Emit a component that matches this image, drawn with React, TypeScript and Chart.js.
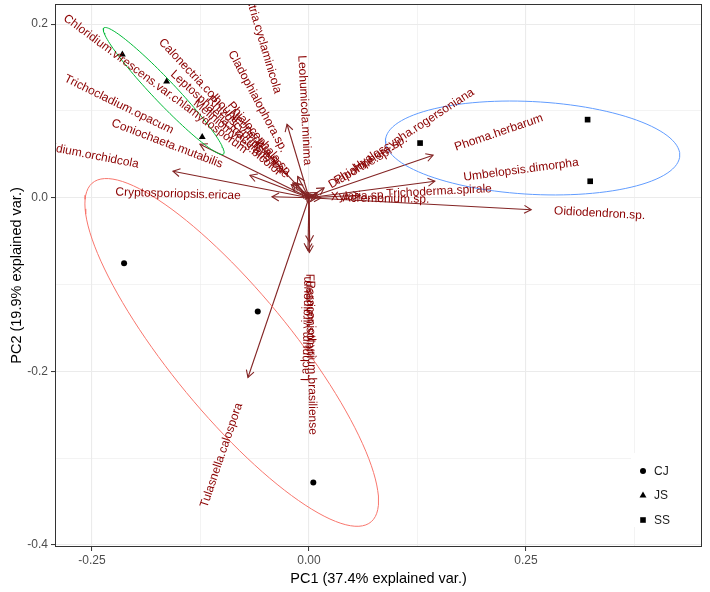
import React, { useEffect, useRef } from 'react';
import { Chart, registerables } from 'chart.js';

Chart.register(...registerables);

// ---------- data ----------
const groupNames = ['CJ', 'JS', 'SS'];
const groupColors = ['#F8766D', '#00BA38', '#619CFF'];
const groupShapes = ['circle', 'triangle', 'rect'];

const cjPC1 = [-0.213, -0.059, 0.005];
const cjPC2 = [-0.0755, -0.131, -0.328];
const jsPC1 = [-0.215, -0.164, -0.123];
const jsPC2 = [0.165, 0.134, 0.07];
const ssPC1 = [0.128, 0.321, 0.324];
const ssPC2 = [0.063, 0.09, 0.019];

const varNames = [
  'Oidiodendron.sp.',
  'Umbelopsis.dimorpha',
  'Phoma.herbarum',
  'Trichoderma.spirale',
  'Xylaria.sp.',
  'Acremonium.sp.',
  'Hyaloscypha.rogersoniana',
  'Diaporthe.sp.',
  'Phialophora.sp.',
  'Leohumicola.minima',
  'Ilyonectria.cyclaminicola',
  'Cladophialophora.sp.',
  'Calonectria.colhounii',
  'Leptosphaeria.maculans',
  'Chloridium.virescens.var.chlamydosporum',
  'Trichocladium.opacum',
  'Coniochaeta.mutabilis',
  'Leptodontidium.orchidcola',
  'Cryptosporiopsis.ericae',
  'Tulasnella.calospora',
  'Fusarium.solani',
  'Paraconiothyrium.brasiliense',
  'Lachnum.virgineum',
  'Neonectria.sp.',
  'Phialocephala.sp.',
  'Rhizoscyphus.ericae',
  'Meliniomyces.bicolor',
];
const varPC1 = [
  0.256, 0.145, 0.143, 0.0588, 0.0092, 0.0138, 0.0174, 0.006, 0.0098,
  -0.0003, -0.0253, -0.013, -0.0608, -0.0187, -0.0204, -0.1256, -0.068,
  -0.1567, -0.0426, -0.0703, 0.0005, 0.0008, -0.0012, -0.0154, -0.0037,
  -0.0024, -0.0088,
];
const varPC2 = [
  -0.0138, 0.019, 0.049, 0.0029, 0.0003, -0.0002, 0.0113, 0.0035, 0.006,
  0.0058, 0.0847, 0.0244, 0.0645, 0.0171, 0.0151, 0.0616, 0.0259,
  0.0305, 0.0012, -0.207, -0.063, -0.0513, -0.0605, 0.0171, 0.0044,
  0.0024, 0.0074,
];

const xTickValues = [-0.25, 0, 0.25];
const xTickLabels = ['-0.25', '0.00', '0.25'];
const xMinorValues = [-0.125, 0.125, 0.375];
const yTickValues = [-0.4, -0.2, 0, 0.2];
const yTickLabels = ['-0.4', '-0.2', '0.0', '0.2'];
const yMinorValues = [-0.3, -0.1, 0.1];

const xTitle = 'PC1 (37.4% explained var.)';
const yTitle = 'PC2 (19.9% explained var.)';
const ellipseProb = 0.68;

// ---------- styling ----------
const FONT = '"Liberation Sans", Arial, Helvetica, sans-serif';
const arrowColor = '#832424';
const labelColor = '#8B0000';

function groupEllipse(xs: number[], ys: number[], prob: number) {
  const n = xs.length;
  const mx = xs.reduce((a, b) => a + b, 0) / n;
  const my = ys.reduce((a, b) => a + b, 0) / n;
  let sxx = 0, syy = 0, sxy = 0;
  for (let i = 0; i < n; i++) {
    const dx = xs[i] - mx, dy = ys[i] - my;
    sxx += dx * dx; syy += dy * dy; sxy += dx * dy;
  }
  sxx /= n - 1; syy /= n - 1; sxy /= n - 1;
  const r11 = Math.sqrt(sxx);
  const r12 = sxy / r11;
  const r22 = Math.sqrt(Math.max(syy - r12 * r12, 0));
  const ed = Math.sqrt(-2 * Math.log(1 - prob));
  const pts: { x: number; y: number }[] = [];
  const N = 120;
  for (let k = 0; k <= N; k++) {
    const t = -Math.PI + (2 * Math.PI * k) / N;
    const c = Math.cos(t), s = Math.sin(t);
    pts.push({ x: mx + ed * c * r11, y: my + ed * (c * r12 + s * r22) });
  }
  return pts;
}

function drawShape(ctx: CanvasRenderingContext2D, shape: string, x: number, y: number) {
  ctx.beginPath();
  if (shape === 'circle') {
    ctx.arc(x, y, 3, 0, Math.PI * 2);
  } else if (shape === 'triangle') {
    const r = 4;
    ctx.moveTo(x, y - r);
    ctx.lineTo(x + r * 0.866, y + r * 0.5);
    ctx.lineTo(x - r * 0.866, y + r * 0.5);
    ctx.closePath();
  } else {
    ctx.rect(x - 2.8, y - 2.8, 5.6, 5.6);
  }
  ctx.fill();
}

const biplotPlugin = {
  id: 'biplot',
  afterDatasetDraw(chart: any, args: any) {
    const ds = chart.data.datasets[args.index];
    if (ds.arrowIdx === undefined) return;
    const i = ds.arrowIdx;
    const { ctx, chartArea: ca, scales } = chart;
    const x0 = scales.x.getPixelForValue(0), y0 = scales.y.getPixelForValue(0);
    const x1 = scales.x.getPixelForValue(varPC1[i]), y1 = scales.y.getPixelForValue(varPC2[i]);
    const a = Math.atan2(y1 - y0, x1 - x0);
    const L = 8, h = Math.PI / 6;
    ctx.save();
    ctx.beginPath();
    ctx.rect(ca.left, ca.top, ca.right - ca.left, ca.bottom - ca.top);
    ctx.clip();
    ctx.strokeStyle = arrowColor;
    ctx.lineWidth = 1.1;
    ctx.beginPath();
    ctx.moveTo(x1 - L * Math.cos(a - h), y1 - L * Math.sin(a - h));
    ctx.lineTo(x1, y1);
    ctx.lineTo(x1 - L * Math.cos(a + h), y1 - L * Math.sin(a + h));
    ctx.stroke();
    ctx.restore();
  },
  afterDatasetsDraw(chart: any) {
    const { ctx, chartArea: ca, scales } = chart;
    // variable labels
    ctx.save();
    ctx.beginPath();
    ctx.rect(ca.left, ca.top, ca.right - ca.left, ca.bottom - ca.top);
    ctx.clip();
    ctx.font = `12px ${FONT}`;
    ctx.fillStyle = labelColor;
    ctx.textBaseline = 'middle';
    ctx.textAlign = 'left';
    varNames.forEach((name, i) => {
      const vx = varPC1[i], vy = varPC2[i];
      const px = scales.x.getPixelForValue(vx);
      const py = scales.y.getPixelForValue(vy);
      const ang = Math.atan(vy / vx);
      const hj = (1 - 1.5 * Math.sign(vx)) / 2;
      const w = ctx.measureText(name).width;
      ctx.save();
      ctx.translate(px, py);
      ctx.rotate(-ang);
      ctx.fillText(name, -hj * w, 0);
      ctx.restore();
    });
    ctx.restore();

    // legend (inside panel, bottom-right)
    ctx.save();
    ctx.fillStyle = '#FFFFFF';
    ctx.fillRect(ca.right - 71, ca.bottom - 94, 70, 74);
    const lx = ca.right - 59;
    const ly0 = ca.bottom - 76;
    groupNames.forEach((g, k) => {
      const yy = ly0 + k * 24.5;
      ctx.fillStyle = '#000';
      drawShape(ctx, groupShapes[k], lx, yy);
      ctx.fillStyle = '#1A1A1A';
      ctx.font = `12px ${FONT}`;
      ctx.textAlign = 'left';
      ctx.textBaseline = 'middle';
      ctx.fillText(g, lx + 11, yy + 0.5);
    });
    ctx.restore();

    // panel border
    ctx.save();
    ctx.strokeStyle = '#333333';
    ctx.lineWidth = 1;
    ctx.strokeRect(Math.round(ca.left) + 0.5, Math.round(ca.top) + 0.5,
      Math.round(ca.right - ca.left) - 1, Math.round(ca.bottom - ca.top) - 1);
    ctx.restore();

    // axis titles
    ctx.save();
    ctx.fillStyle = '#000';
    ctx.font = `14.5px ${FONT}`;
    ctx.textAlign = 'center';
    ctx.textBaseline = 'middle';
    ctx.fillText(xTitle, (ca.left + ca.right) / 2, ca.bottom + 32);
    ctx.translate(17, (ca.top + ca.bottom) / 2);
    ctx.rotate(-Math.PI / 2);
    ctx.fillText(yTitle, 0, 0);
    ctx.restore();
  },
};

export default function App() {
  const canvasRef = useRef<HTMLCanvasElement | null>(null);

  useEffect(() => {
    document.body.style.margin = '0';
    const canvas = canvasRef.current;
    if (!canvas) return;

    const groupsX = [cjPC1, jsPC1, ssPC1];
    const groupsY = [cjPC2, jsPC2, ssPC2];

    const ellipseSets = groupNames.map((g, k) => ({
      label: g + ' ellipse',
      data: groupEllipse(groupsX[k], groupsY[k], ellipseProb),
      showLine: true,
      borderColor: groupColors[k],
      borderWidth: 1,
      pointRadius: 0,
      tension: 0,
      fill: false,
      order: 1,
    }));
    const pointSets = groupNames.map((g, k) => ({
      label: g,
      data: groupsX[k].map((v, j) => ({ x: v, y: groupsY[k][j] })),
      showLine: false,
      pointStyle: groupShapes[k],
      pointRadius: k === 0 ? 3 : 4,
      backgroundColor: '#000',
      borderColor: '#000',
      borderWidth: 0,
      order: 2,
    }));
    const arrowSets = varNames.map((n, i) => ({
      label: n,
      data: [{ x: 0, y: 0 }, { x: varPC1[i], y: varPC2[i] }],
      showLine: true,
      borderColor: arrowColor,
      borderWidth: 1.1,
      pointRadius: 0,
      order: 3,
      arrowIdx: i,
    }));

    const xAll = [...xTickValues, ...xMinorValues].sort((a, b) => a - b);
    const yAll = [...yTickValues, ...yMinorValues].sort((a, b) => a - b);
    const isMinorX = (v: number) => xMinorValues.includes(v);
    const isMinorY = (v: number) => yMinorValues.includes(v);

    const chart = new Chart(canvas, {
      type: 'scatter',
      data: { datasets: [...ellipseSets, ...pointSets, ...arrowSets] as any },
      options: {
        responsive: false,
        animation: false,
        devicePixelRatio: 1,
        events: [],
        layout: { padding: { top: 1, right: 8, left: 0, bottom: 0 } },
        plugins: { legend: { display: false }, tooltip: { enabled: false } },
        scales: {
          x: {
            type: 'linear',
            min: -0.2926,
            max: 0.4528,
            afterBuildTicks: (s: any) => {
              s.ticks = xAll.map((v) => ({ value: v }));
            },
            afterFit: (s: any) => {
              s.height = 45;
              s.paddingLeft = 0; s.paddingRight = 0; s.paddingTop = 0; s.paddingBottom = 0;
            },
            ticks: {
              autoSkip: false,
              maxRotation: 0,
              padding: 2,
              color: '#4D4D4D',
              font: { family: FONT, size: 12 },
              callback: (v: any) => {
                const k = xTickValues.indexOf(Number(v));
                return k >= 0 ? xTickLabels[k] : '';
              },
            },
            grid: {
              color: '#EBEBEB',
              lineWidth: (c: any) => (c.tick && isMinorX(c.tick.value) ? 0.6 : 1.1),
              drawTicks: true,
              tickLength: 4,
              tickWidth: 1,
              tickColor: (c: any) => (c.tick && isMinorX(c.tick.value) ? 'rgba(0,0,0,0)' : '#333333'),
            },
            border: { display: false },
          },
          y: {
            type: 'linear',
            min: -0.4023,
            max: 0.2232,
            afterBuildTicks: (s: any) => {
              s.ticks = yAll.map((v) => ({ value: v }));
            },
            afterFit: (s: any) => {
              s.width = 55;
              s.paddingLeft = 0; s.paddingRight = 0; s.paddingTop = 0; s.paddingBottom = 0;
            },
            ticks: {
              autoSkip: false,
              padding: 3,
              color: '#4D4D4D',
              font: { family: FONT, size: 12 },
              callback: (v: any) => {
                const k = yTickValues.indexOf(Number(v));
                return k >= 0 ? yTickLabels[k] : '';
              },
            },
            grid: {
              color: '#EBEBEB',
              lineWidth: (c: any) => (c.tick && isMinorY(c.tick.value) ? 0.6 : 1.1),
              drawTicks: true,
              tickLength: 4,
              tickWidth: 1,
              tickColor: (c: any) => (c.tick && isMinorY(c.tick.value) ? 'rgba(0,0,0,0)' : '#333333'),
            },
            border: { display: false },
          },
        },
      } as any,
      plugins: [biplotPlugin as any],
    });

    return () => chart.destroy();
  }, []);

  return (
    <canvas
      ref={canvasRef}
      width={710}
      height={592}
      style={{ display: 'block', width: 710, height: 592 }}
    />
  );
}
